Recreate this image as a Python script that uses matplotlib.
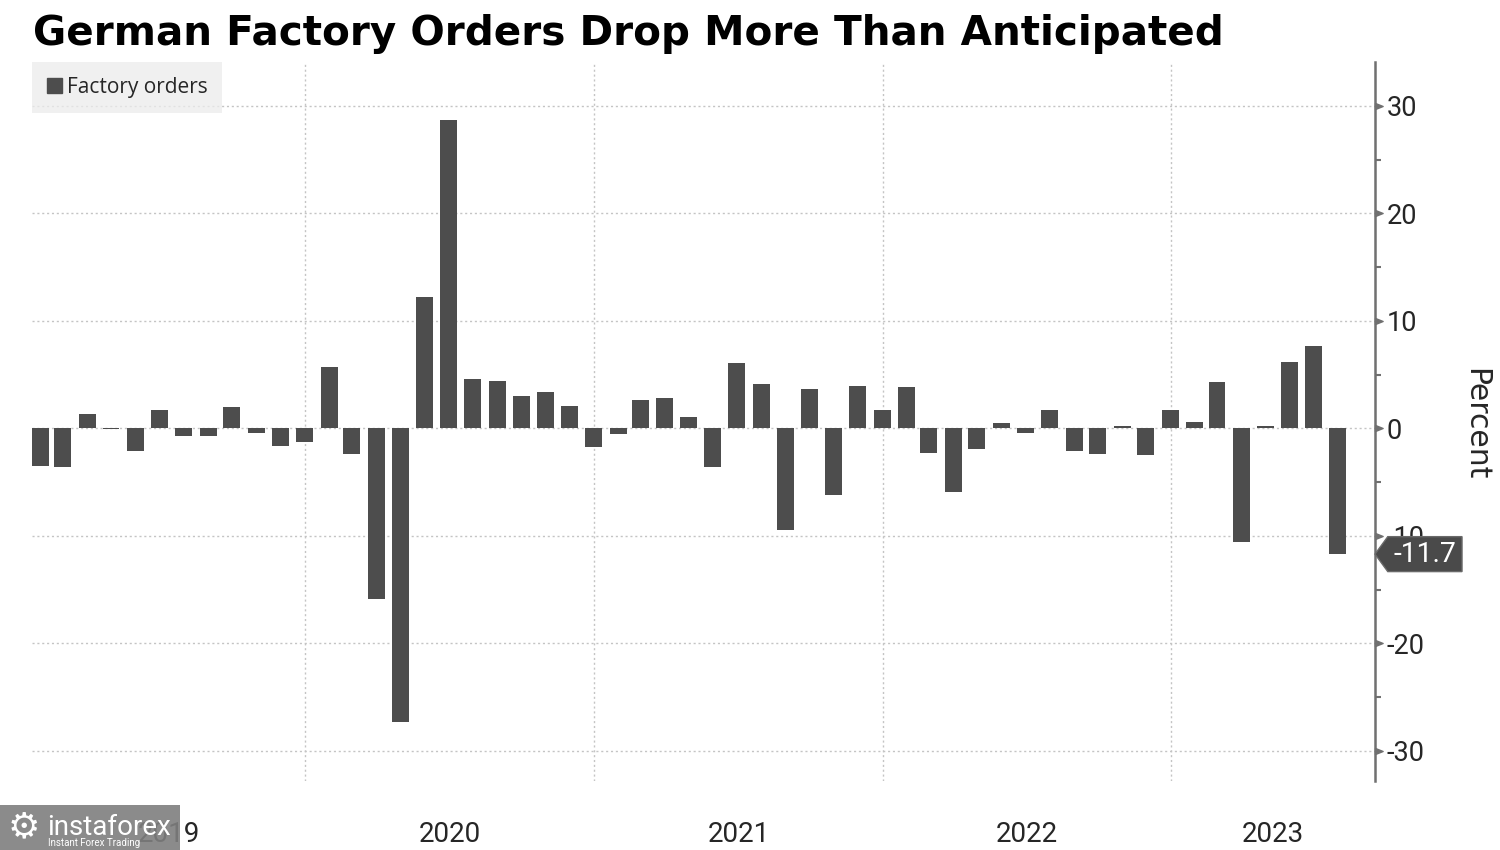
import numpy as np
import pandas as pd
import matplotlib
matplotlib.use("Agg")
import matplotlib.pyplot as plt
import matplotlib.dates as mdates
from matplotlib.path import Path
from matplotlib.patches import Patch, Rectangle
from matplotlib import font_manager as fm

# ---------------- data ----------------
title = "German Factory Orders Drop More Than Anticipated"
series_name = "Factory orders"
y_label = "Percent"
start_month = "2019-01-31"
factory_orders = [
    # 2019
    -3.5, -3.6, 1.3, -0.1, -2.1, 1.7, -0.7, -0.7, 2.0, -0.4, -1.6, -1.3,
    # 2020
    5.7, -2.4, -15.9, -27.3, 12.2, 28.7, 4.6, 4.4, 3.0, 3.4, 2.1, -1.7,
    # 2021
    -0.5, 2.6, 2.8, 1.1, -3.6, 6.1, 4.1, -9.5, 3.7, -6.2, 3.9, 1.7,
    # 2022
    3.8, -2.3, -5.9, -1.9, 0.5, -0.4, 1.7, -2.1, -2.4, 0.2, -2.5, 1.7,
    # 2023
    0.6, 4.3, -10.6, 0.2, 6.2, 7.7, -11.7,
]
year_labels = ["2019", "2020", "2021", "2022", "2023"]
y_ticks = [-30, -20, -10, 0, 10, 20, 30]
y_minor = [-25, -15, -5, 5, 15, 25]
last_value = factory_orders[-1]
x_range = ("2019-01-20", "2023-09-16")
y_range = (-32.8, 34.07)

# ---------------- fonts ----------------
installed = {f.name for f in fm.fontManager.ttflist}
if "Liberation Sans Narrow" in installed:
    NARROW = ["Liberation Sans Narrow", "DejaVu Sans"]
    nscale = 1.0
else:
    NARROW = ["Roboto", "DejaVu Sans"]
    nscale = 0.93
plt.rcParams["axes.unicode_minus"] = False
plt.rcParams["font.family"] = ["DejaVu Sans"]

BAR = "#4d4d4d"
AXC = "#707070"
TXT = "#262626"
GRID = "#c4c4c4"

fig = plt.figure(figsize=(15, 8.5), dpi=100)
W, H = 1500, 850
ax = fig.add_axes([32 / W, 1 - 781 / H, (1375 - 32) / W, (781 - 62) / H])

dates = pd.date_range(start_month, periods=len(factory_orders), freq="ME")
x = mdates.date2num(dates)
ax.bar(x, factory_orders, width=21.5, color=BAR, zorder=3, label=series_name)

x0 = mdates.date2num(pd.Timestamp(x_range[0]))
x1 = mdates.date2num(pd.Timestamp(x_range[1]))
ax.set_xlim(x0, x1)
ax.set_ylim(*y_range)

# year boundaries (grid) and year labels (centred in the visible part of each year)
year_starts = [mdates.date2num(pd.Timestamp(f"{y}-01-01")) for y in year_labels[1:]]
bounds = [x0] + year_starts + [x1]
centers = [(a + b) / 2 for a, b in zip(bounds[:-1], bounds[1:])]
ax.set_xticks(year_starts)
ax.set_xticklabels([])
ax.set_xticks(centers, minor=True)
ax.set_xticklabels(year_labels, minor=True, fontsize=21.5 * nscale, family=NARROW, color=TXT)
ax.tick_params(axis="x", which="both", length=0)
ax.tick_params(axis="x", which="minor", pad=29)

# y axis on right
ax.yaxis.tick_right()
ax.set_yticks(y_ticks)
ax.set_yticklabels([str(t) for t in y_ticks], fontsize=21 * nscale, family=NARROW, color=TXT)
ax.set_yticks(y_minor, minor=True)
ax.tick_params(axis="y", which="major", length=0, pad=8.5)
ax.tick_params(axis="y", which="minor", length=4, width=1.5, color=AXC, direction="out")

for s in ["top", "left", "bottom"]:
    ax.spines[s].set_visible(False)
ax.spines["right"].set_color(AXC)
ax.spines["right"].set_linewidth(1.8)

ax.grid(True, which="major", axis="both", color=GRID, linestyle=(0, (1.5, 2.0)), linewidth=1.0, zorder=0)
ax.set_axisbelow(True)

# triangular major ticks
tri = Path([(0, -0.4), (1, 0), (0, 0.4), (0, -0.4)], [Path.MOVETO, Path.LINETO, Path.LINETO, Path.CLOSEPOLY])
ax.plot([1] * len(y_ticks), y_ticks, transform=ax.get_yaxis_transform(), linestyle="none",
        marker=tri, markersize=11, color=AXC, clip_on=False, zorder=4)

# legend
leg = ax.legend(handles=[Patch(color=BAR, label=series_name)], loc="upper left",
                bbox_to_anchor=(0, 1), borderaxespad=0, frameon=True, fancybox=False,
                facecolor="#ececec", edgecolor="none", framealpha=0.75,
                handlelength=0.72, handleheight=0.72, handletextpad=0.22, borderpad=0.72,
                prop={"family": ["Open Sans", "DejaVu Sans"], "size": 15})
for t in leg.get_texts():
    t.set_color(TXT)

# last value pointer label
def pointer_box(bx, by, bw, bh, mutation_size):
    pad = 0.2 * mutation_size
    L = 0.45 * mutation_size
    bx -= pad; bw += 2 * pad
    by -= 0.14 * mutation_size; bh += 0.28 * mutation_size
    verts = [(bx - L, by + bh / 2), (bx, by), (bx + bw, by), (bx + bw, by + bh),
             (bx, by + bh), (bx - L, by + bh / 2)]
    codes = [Path.MOVETO] + [Path.LINETO] * 4 + [Path.CLOSEPOLY]
    return Path(verts, codes)

fs_ann = 22 * nscale
ax.annotate(f"{last_value:.1f}", xy=(1, last_value), xycoords=ax.get_yaxis_transform(),
            xytext=(0.65 * fs_ann, 0), textcoords="offset points", ha="left", va="center",
            fontsize=fs_ann, family=NARROW, color="white", annotation_clip=False, zorder=10,
            bbox=dict(boxstyle=pointer_box, fc="#4a4a4a", ec="#6a6a6a", lw=1))

# axis label
fig.text(1476 / W, 1 - 424 / H, y_label, rotation=270, ha="center", va="center",
         fontsize=21.5, color=TXT, family=["DejaVu Sans"])

# title
fig.text(33 / W, 1 - 14 / H, title, ha="left", va="top", fontsize=29.2, fontweight="bold",
         color="black", family=["DejaVu Sans"])

# watermark
fig.patches.append(Rectangle((0, 0), 180 / W, 45 / H, transform=fig.transFigure,
                             facecolor="#7f7f7f", alpha=0.9, edgecolor="none", zorder=5))
fig.text(24 / W, 1 - 827 / H, "\u2699", ha="center", va="center", fontsize=26, color="white",
         family=["DejaVu Sans"], zorder=6)
fig.text(47 / W, 1 - 835 / H, "instaforex", ha="left", va="baseline", fontsize=20,
         color="white", family=["Roboto", "DejaVu Sans"], zorder=6)
fig.text(48 / W, 1 - 846 / H, "Instant Forex Trading", ha="left", va="baseline", fontsize=7,
         color="white", family=["Roboto", "DejaVu Sans"], zorder=6)

fig.savefig("out.png", dpi=100)
